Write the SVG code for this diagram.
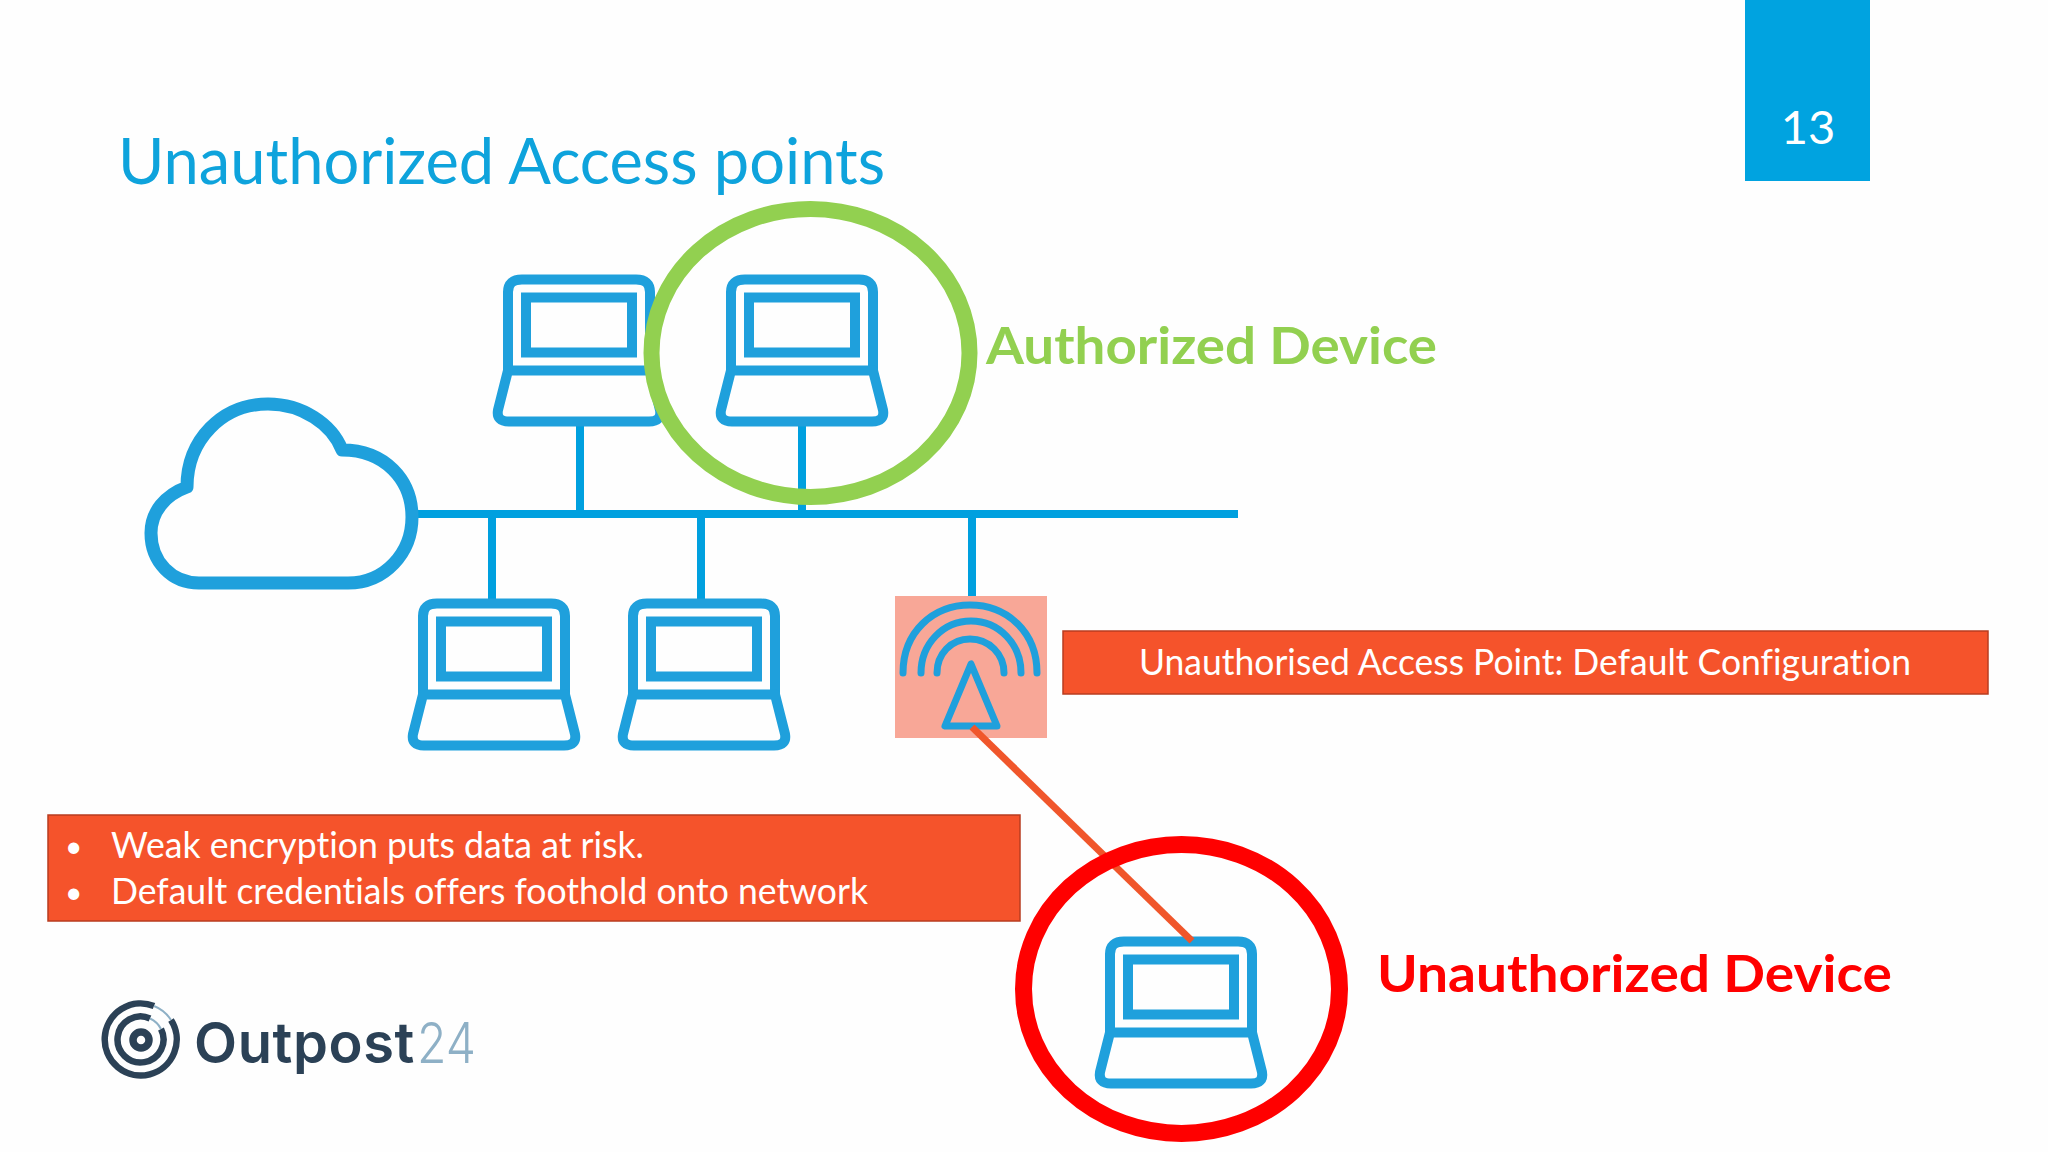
<svg xmlns="http://www.w3.org/2000/svg" width="2048" height="1152" viewBox="0 0 2048 1152">
<style>
text{font-family:"Lato","Liberation Sans",sans-serif;font-variant-ligatures:none}
.ln{fill:none;stroke:#1fa0dc;stroke-width:10;stroke-linejoin:round;stroke-linecap:round}
.wire{fill:none;stroke:#00a0df;stroke-width:8}
.bar{fill:#f5532b;stroke:#b83c20;stroke-width:1.5}
.wt{fill:#fff}
.logo{font-family:Inter,"Liberation Sans",sans-serif;font-size:56px}
</style>
<defs>
<g id="laptop">
<path class="ln" d="M-71 95.500V17Q-71 4.500-57 4.500H57Q71 4.500 71 17V95.500"/>
<rect class="ln" x="-53" y="22.500" width="106" height="55" style="stroke-linejoin:miter"/>
<path class="ln" d="M-71 95.500H71L81 135Q83 146.500 70 146.500H-70Q-83 146.500-81 135Z"/>
</g>
</defs>
<rect width="2048" height="1152" fill="#fefefe"/>
<g id="title"><text x="118" y="184" font-size="64" fill="#0ea3dc" textLength="767" lengthAdjust="spacingAndGlyphs">Unauthorized Access points</text></g>
<g id="page-number"><rect x="1745" y="0" width="125" height="181" fill="#00a3e0"/><text class="wt" x="1808" y="144" font-size="47" text-anchor="middle">13</text></g>
<g id="connectors">
<path class="wire" d="M415 514H1238M580 426V514M802 426V514M492 514V599M701 514V599M972 514V602"/>
</g>
<g id="ap-highlight"><rect x="895" y="596" width="152" height="142" fill="#f8a797"/></g>
<g id="cloud"><path d="M199 583H348C385 583 412 553 412 517C412 480 385 450 342 450C332 424 302 404 268 404C222 404 187 440 187 487C165 495 151 512 151 533C151 562 172 583 199 583Z" fill="none" stroke="#1fa0dc" stroke-width="13" stroke-linejoin="round"/></g>
<g id="laptop-top-left"><use href="#laptop" x="579" y="275"/></g>
<g id="laptop-top-right"><use href="#laptop" x="802" y="275"/></g>
<g id="laptop-bottom-left"><use href="#laptop" x="494" y="599"/></g>
<g id="laptop-bottom-middle"><use href="#laptop" x="704" y="599"/></g>
<g id="laptop-unauthorized"><use href="#laptop" x="1181" y="937"/></g>
<g id="access-point" fill="none" stroke="#1fa0dc" stroke-width="7" stroke-linecap="round" stroke-linejoin="round">
<path d="M903 673C903 632 933 605 970 605C1007 605 1037 632 1037 673"/>
<path d="M921 673C921 644 943 621 971 621C999 621 1021 644 1021 673"/>
<path d="M937 673C937 654 951 639 970 639C989 639 1004 654 1004 673"/>
<path d="M971 664L945 726H997Z"/>
</g>
<g id="authorized-ring"><ellipse cx="810.500" cy="353" rx="159" ry="144" fill="none" stroke="#92d050" stroke-width="16"/></g>
<g id="rogue-link"><path d="M972 727L1192 941" fill="none" stroke="#f0562b" stroke-width="7"/></g>
<g id="unauthorized-ring"><ellipse cx="1181.500" cy="989" rx="158" ry="144.500" fill="none" stroke="#ff0000" stroke-width="17"/></g>
<g id="label-authorized"><text x="986" y="364" font-size="52" font-weight="700" fill="#92d050" textLength="451" lengthAdjust="spacingAndGlyphs">Authorized Device</text></g>
<g id="label-unauthorized"><text x="1377" y="992" font-size="52" font-weight="700" fill="#ff0000" textLength="515" lengthAdjust="spacingAndGlyphs">Unauthorized Device</text></g>
<g id="ap-callout"><rect class="bar" x="1063" y="631" width="925" height="63"/><text class="wt" x="1139" y="675" font-size="36" textLength="772" lengthAdjust="spacingAndGlyphs">Unauthorised Access Point: Default Configuration</text></g>
<g id="risk-callout"><rect class="bar" x="48" y="815" width="972" height="106"/>
<text class="wt" x="65" y="857" font-size="30">•</text><text class="wt" x="111" y="858" font-size="36" textLength="533" lengthAdjust="spacingAndGlyphs">Weak encryption puts data at risk.</text>
<text class="wt" x="65" y="903" font-size="30">•</text><text class="wt" x="111" y="904" font-size="36" textLength="757" lengthAdjust="spacingAndGlyphs">Default credentials offers foothold onto network</text></g>
<g id="logo">
<g fill="none" stroke="#2b4156" stroke-width="6.500">
<path d="M154 1006A36 36 0 1 0 171 1020"/>
<path d="M150 1018.500A23 23 0 1 0 161 1029"/>
<circle cx="141" cy="1040" r="8" stroke-width="7.500"/>
</g>
<g fill="none" stroke="#8eb0c6" stroke-width="2"><path d="M154 1006A36 36 0 0 1 171 1020"/><path d="M150 1018.500A23 23 0 0 1 161 1029"/></g>
<text class="logo" x="194" y="1063" font-weight="600" fill="#2b4156" letter-spacing="0.6">Outpost</text>
<text class="logo" x="417" y="1063" font-weight="300" fill="#8eb0c6" textLength="59" lengthAdjust="spacingAndGlyphs">24</text>
</g>
</svg>
